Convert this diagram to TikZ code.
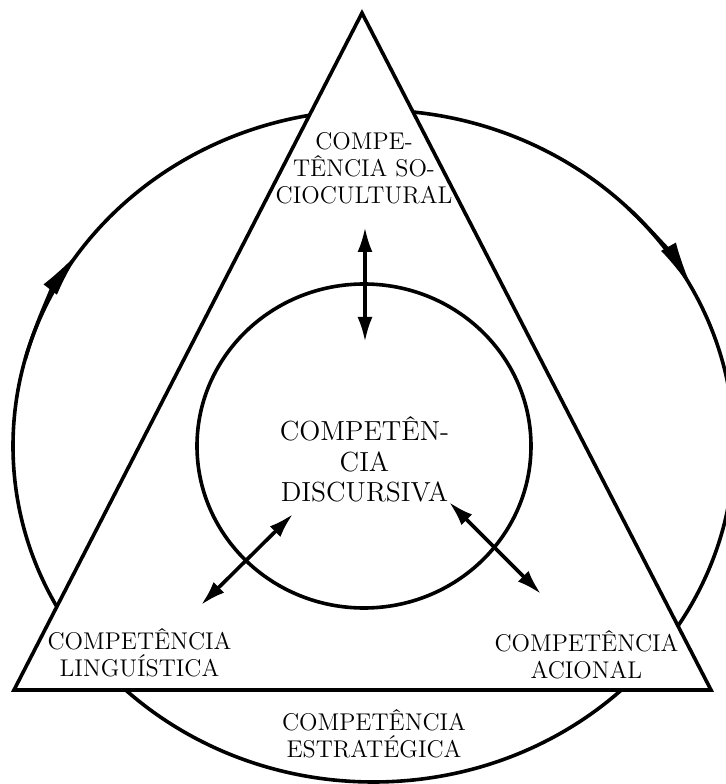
\documentclass[tikz,border=0pt]{standalone}
\usepackage{fontspec}
\usetikzlibrary{arrows.meta}
\begin{document}
\begin{tikzpicture}[x=0.5pt,y=0.5pt,line width=1.8pt,
    lbl/.style={align=center,anchor=base,inner sep=0pt,font=\fontsize{12.1}{13.75}\selectfont},
    big/.style={lbl,font=\fontsize{13.8}{15.4}\selectfont},
    dbl/.style={{Latex[length=12.5pt,width=7.5pt]}-{Latex[length=12.5pt,width=7.5pt]}},
    turn/.style={-{Latex[length=25pt,width=8.5pt]}}]
    \useasboundingbox (0,0) rectangle (726,784);
    \draw (373.5,338) ellipse [x radius=360.5,y radius=336];% draw the outer ellipse
    \draw[turn] (373.5,338) ++(165:360.5 and 336) arc[start angle=165,end angle=144.3,x radius=360.5,y radius=336];% left arrow
    \draw[turn] (373.5,338) ++(45:360.5 and 336) arc[start angle=45,end angle=27.6,x radius=360.5,y radius=336];% right arrow
    \filldraw[fill=white] (362,771) -- (14,94) -- (711,94) -- cycle;% draw the triangle
    \draw (364,338) ellipse [x radius=167,y radius=162];% draw the inner circle
    % Labels (base = last line)
    \node[lbl] (socio) at (364,580) {COMPE-\\TÊNCIA SO-\\CIOCULTURAL};
    \node[big] (disc) at (364.5,282) {COMPETÊN-\\CIA\\DISCURSIVA};
    \node[lbl] (ling) at (139.5,107) {COMPETÊNCIA\\LINGUÍSTICA};
    \node[lbl] (acio) at (586.5,105) {COMPETÊNCIA\\ACIONAL};
    \node[lbl] (estr) at (374,26) {COMPETÊNCIA\\ESTRATÉGICA};
    % Arrows
    \coordinate (s1) at (365,557);
    \coordinate (s2) at (365,442);
    \coordinate (l1) at (293,270);
    \coordinate (l2) at (201,179);
    \coordinate (a1) at (449,282);
    \coordinate (a2) at (541,190);
    \draw[dbl] (s1) -- (s2);
    \draw[dbl] (l1) -- (l2);
    \draw[dbl] (a1) -- (a2);
\end{tikzpicture}
\end{document}
